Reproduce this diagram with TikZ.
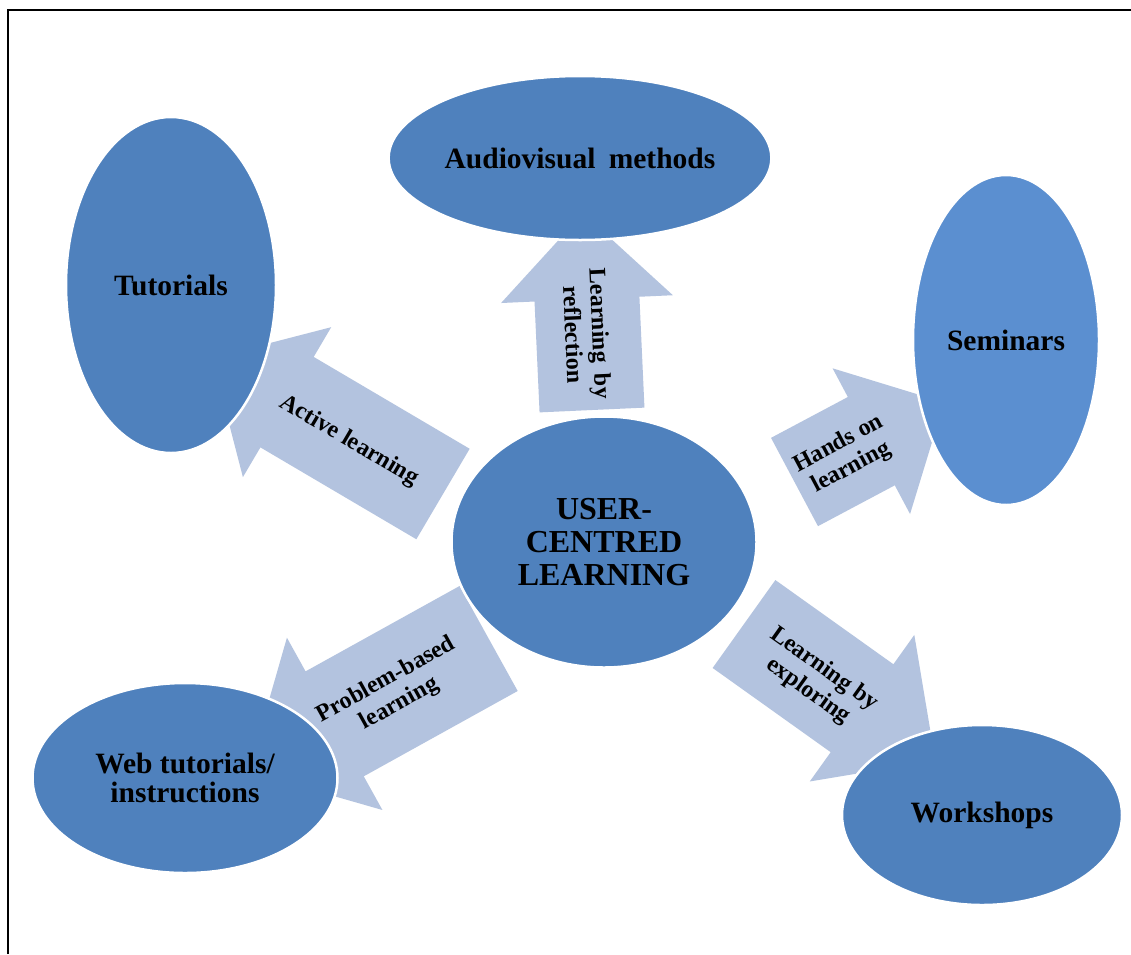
\documentclass[tikz,border=0pt]{standalone}
\usepackage{fontspec}
\setmainfont{Liberation Serif}
\usetikzlibrary{shapes.geometric}
\definecolor{ellblue}{HTML}{4F81BD}
\definecolor{semblue}{HTML}{5B8FD0}
\definecolor{arrfill}{HTML}{B3C3DF}
\tikzset{
  bubble/.style={ellipse, fill=ellblue, draw=white, line width=2.5pt, inner sep=0pt,
    font=\bfseries\fontsize{29.5}{29.5}\selectfont, align=center, text=black},
  arrowtext/.style={font=\bfseries\fontsize{24}{27}\selectfont, align=center, text=black, inner sep=0pt},
  arrowbody/.style={fill=arrfill},
  frameline/.style={line width=2pt, draw=black}
}
\newcommand\blockarrow[6]{%
  \begin{scope}[shift={(#2)},rotate=#3]
    \fill[arrowbody] (0,{-#5/2}) -- (#4,{-#5/2}) -- (#4,{-#6/2}) -- ({#4+#6/2},0)
      -- (#4,{#6/2}) -- (#4,{#5/2}) -- (0,{#5/2}) -- cycle;
    \coordinate (#1) at ({#4/2},0);
  \end{scope}}
\begin{document}
\begin{tikzpicture}[x=1pt,y=-1pt]
\useasboundingbox (0,0) rectangle (1131,954);
\fill[white] (0,0) rectangle (1131,954);
\draw[frameline] (8,954) -- (8,10) -- (1131,10);

% block arrows
\blockarrow{aA}{443,494}{149.5}{181}{105}{174}
\blockarrow{aU}{592,410}{92.6}{111}{105}{172}
\blockarrow{aH}{794.5,482}{28}{87}{100}{165}
\blockarrow{aP}{488.6,638.5}{209}{176}{120}{197}
\blockarrow{aE}{744,624}{-35.5}{145}{108}{180}

% ellipses
\node[bubble, minimum width=380pt, minimum height=164pt] (audio) at (580,158) {Audiovisual\hspace{0.45em}methods};
\node[bubble, minimum width=210pt, minimum height=336pt] (tut) at (171,285) {Tutorials};
\node[bubble, fill=semblue, minimum width=186pt, minimum height=330pt] (sem) at (1006,340) {Seminars};
\node[bubble, minimum width=305pt, minimum height=251pt, font=\bfseries\fontsize{32}{33}\selectfont] (user) at (604,542) {USER-\\CENTRED\\LEARNING};
\node[bubble, minimum width=305pt, minimum height=190pt] (web) at (185,778) {Web tutorials/\\instructions};
\node[bubble, minimum width=280pt, minimum height=180pt] (work) at (982,815) {Workshops};

% arrow labels
\node[arrowtext, rotate=-30.5] (lA) at (349,441) {Active learning};
\node[arrowtext, rotate=-87.4] (lU) at (587,334) {Learning\hspace{0.45em}by\\reflection};
\node[arrowtext, rotate=28] (lH) at (845,456) {Hands on\\learning};
\node[arrowtext, rotate=29] (lP) at (393,692) {Problem-based\\learning};
\node[arrowtext, rotate=-35.5] (lE) at (816,680) {Learning by\\exploring};
\end{tikzpicture}
\end{document}
